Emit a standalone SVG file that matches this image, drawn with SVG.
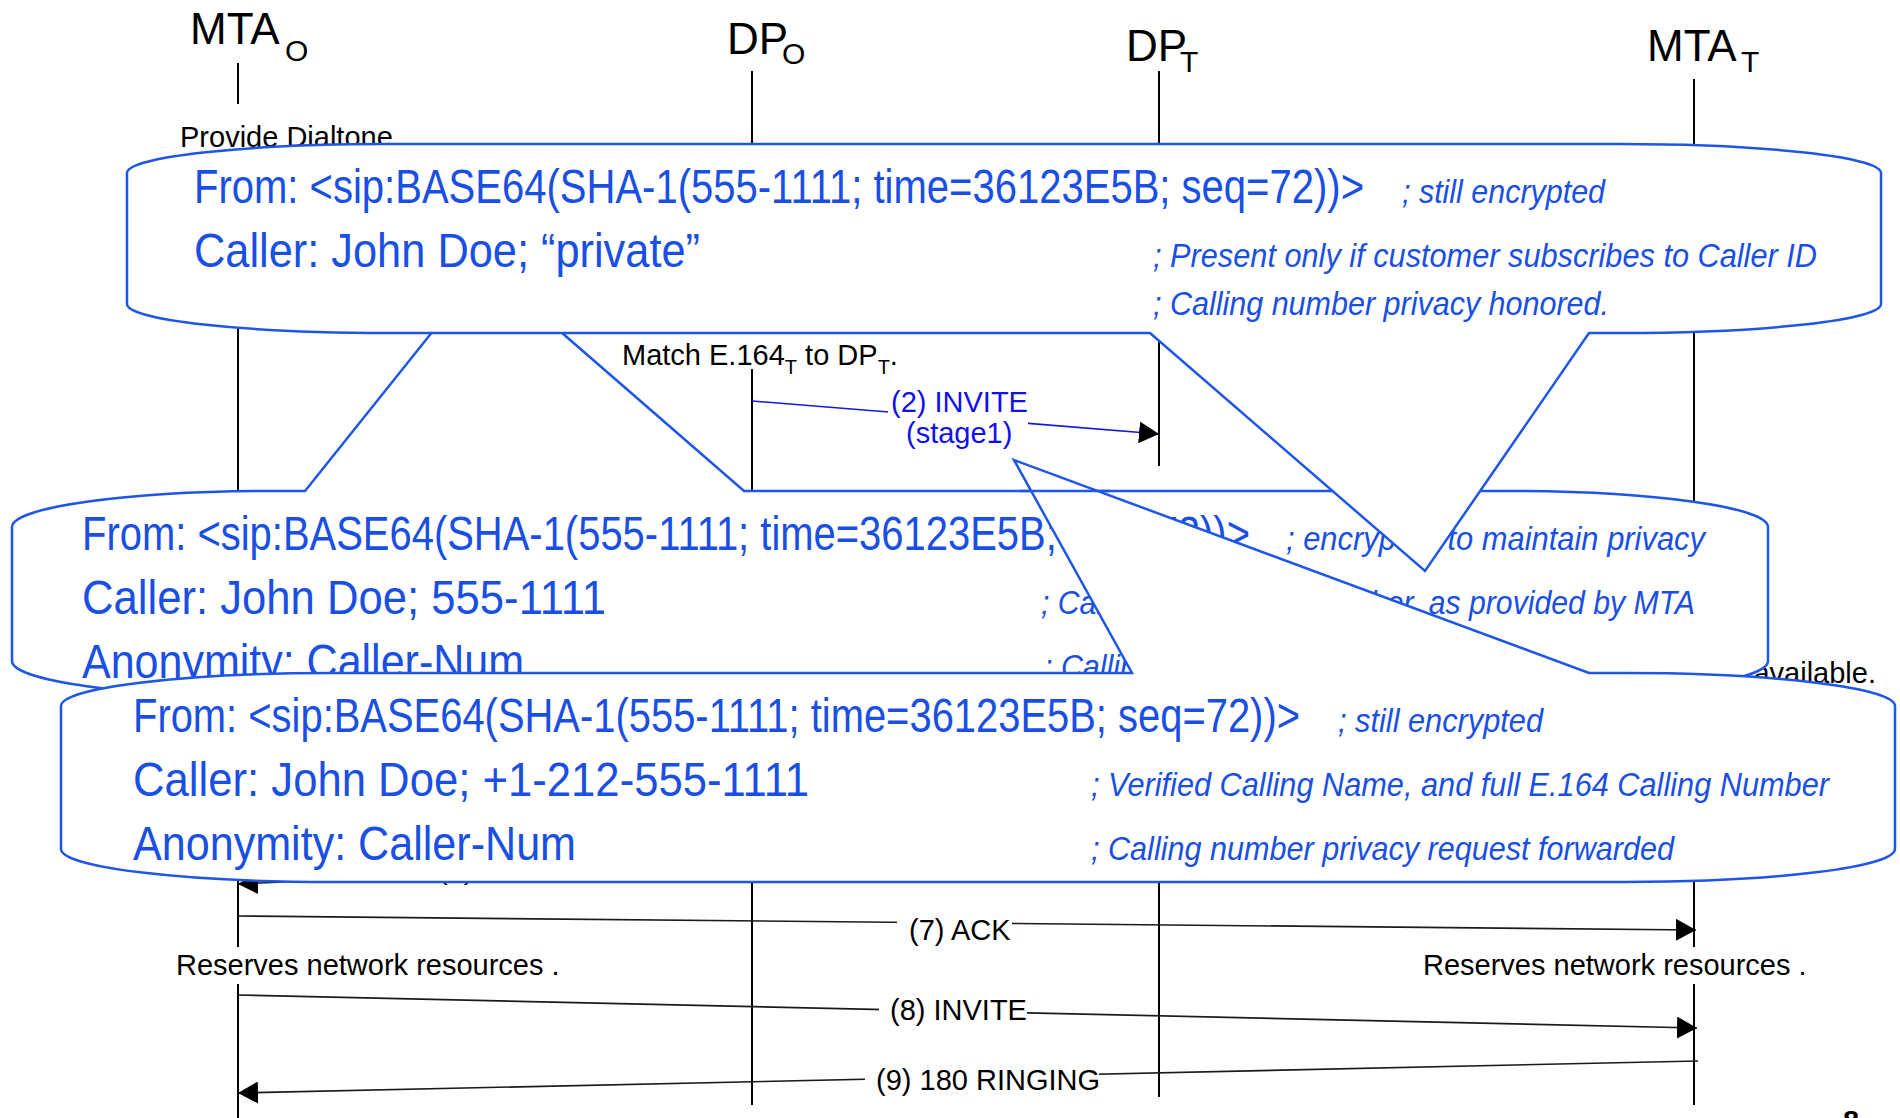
<svg xmlns="http://www.w3.org/2000/svg" width="1900" height="1118" viewBox="0 0 1900 1118">
<defs>
<style>
.hdr{font-family:"Liberation Sans",Arial,sans-serif;font-size:44px;fill:#000}
.txt{font-family:"Liberation Sans",Arial,sans-serif;font-size:29px;fill:#000}
.life{stroke:#000;stroke-width:2;fill:none}
.msg{stroke:#1a1a1a;stroke-width:1.6;fill:none}
.msgb{stroke:#1515e0;stroke-width:1.6;fill:none}
.lblbg{fill:#fff}
.bl{font-family:"Liberation Sans",Arial,sans-serif;font-size:29px;fill:#1010ee}
.co{fill:#fff;stroke:#1E56E8;stroke-width:2.5}
.edge{stroke:#1E56E8;stroke-width:2.5;fill:none}
.big{font-family:"Liberation Sans Narrow","Liberation Sans",Arial,sans-serif;font-size:49px;fill:#1A4FE3}
.cmt{font-family:"Liberation Sans Narrow","Liberation Sans",Arial,sans-serif;font-size:34px;font-style:italic;fill:#1A4FE3}
</style>
<marker id="ah" markerWidth="20" markerHeight="22" refX="20" refY="11" orient="auto" markerUnits="userSpaceOnUse"><path d="M0,0 L20,11 L0,22 Z" fill="#000"/></marker>
</defs>

<g id="lifelines">
<g id="MTA_O">
<text class="hdr" x="190" y="44">MTA<tspan x="285" y="61" font-size="30">O</tspan></text>
<path class="life" d="M238,63 V104 M238,155 V947 M238,984 V1118"/>
</g>
<g id="DP_O">
<text class="hdr" x="727" y="54">DP<tspan x="782" y="64" font-size="30">O</tspan></text>
<path class="life" d="M752,71 V150 M752,369 V1105"/>
</g>
<g id="DP_T">
<text class="hdr" x="1126" y="61">DP<tspan x="1180" y="72" font-size="30">T</tspan></text>
<path class="life" d="M1159,71 V150 M1159,333 V466 M1159,500 V1097"/>
</g>
<g id="MTA_T">
<text class="hdr" x="1647" y="61">MTA<tspan x="1741" y="72" font-size="30">T</tspan></text>
<path class="life" d="M1694,79 V150 M1694,333 V947 M1694,984 V1105"/>
</g>
</g>

<g id="notes">
<text class="txt" x="180" y="147">Provide Dialtone</text>
<text class="txt" x="622" y="365">Match E.164<tspan font-size="20" dy="9">T</tspan><tspan dy="-9"> to DP</tspan><tspan font-size="20" dy="9">T</tspan><tspan dy="-9">.</tspan></text>
<text class="txt" x="1876" y="683" text-anchor="end">available.</text>
<text class="txt" x="176" y="975">Reserves network resources .</text>
<text class="txt" x="1423" y="975">Reserves network resources .</text>
<text class="txt" x="1843" y="1131" font-weight="bold">8</text>
</g>

<g id="connectors">
<g id="msg2">
<line class="msgb" x1="752" y1="401" x2="1159" y2="434" marker-end="url(#ah)"/>
<rect class="lblbg" x="888" y="388" width="140" height="64"/>
<text class="bl" x="891" y="412">(2) INVITE</text>
<text class="bl" x="906" y="443">(stage1)</text>
</g>
<g id="msg6">
<line class="msg" x1="1694" y1="821" x2="238" y2="884" marker-end="url(#ah)"/>
<text class="txt" x="438" y="879">(6)</text>
</g>
<g id="msg7">
<line class="msg" x1="238" y1="916" x2="1696" y2="930" marker-end="url(#ah)"/>
<rect class="lblbg" x="897" y="914" width="115" height="34"/>
<text class="txt" x="909" y="940">(7) ACK</text>
</g>
<g id="msg8">
<line class="msg" x1="238" y1="995" x2="1697" y2="1028" marker-end="url(#ah)"/>
<rect class="lblbg" x="879" y="994" width="148" height="34"/>
<text class="txt" x="890" y="1020">(8) INVITE</text>
</g>
<g id="msg9">
<line class="msg" x1="1698" y1="1061" x2="238" y2="1093" marker-end="url(#ah)"/>
<rect class="lblbg" x="865" y="1064" width="234" height="34"/>
<text class="txt" x="876" y="1090">(9) 180 RINGING</text>
</g>
</g>

<g id="callout2">
<path class="co" d="M273,491 H305 L485,266 L744,491 H1507 A261,36 0 0 1 1768,527 V661 A261,36 0 0 1 1507,697 H273 A261,36 0 0 1 12,661 V527 A261,36 0 0 1 273,491 Z"/>
<text class="big" x="82" y="550" textLength="1168" lengthAdjust="spacingAndGlyphs">From: &lt;sip:BASE64(SHA-1(555-1111; time=36123E5B; seq=72))&gt;</text>
<text class="cmt" x="1286" y="550" textLength="419" lengthAdjust="spacingAndGlyphs">; encrypted to maintain privacy</text>
<text class="big" x="82" y="614" textLength="524" lengthAdjust="spacingAndGlyphs">Caller: John Doe; 555-1111</text>
<text class="cmt" x="1041" y="614" textLength="654" lengthAdjust="spacingAndGlyphs">; Calling Name and Number, as provided by MTA</text>
<text class="big" x="82" y="678" textLength="442" lengthAdjust="spacingAndGlyphs">Anonymity: Caller-Num</text>
<text class="cmt" x="1044" y="678" textLength="470" lengthAdjust="spacingAndGlyphs">; Calling number privacy requested</text>
</g>

<g id="callout3">
<path class="co" d="M331,673 H1132 L1014,460 L1589,673 H1625 A270,33 0 0 1 1895,706 V849 A270,33 0 0 1 1625,882 H331 A270,33 0 0 1 61,849 V706 A270,33 0 0 1 331,673 Z"/>
<text class="big" x="133" y="732" textLength="1167" lengthAdjust="spacingAndGlyphs">From: &lt;sip:BASE64(SHA-1(555-1111; time=36123E5B; seq=72))&gt;</text>
<text class="cmt" x="1338" y="732" textLength="205" lengthAdjust="spacingAndGlyphs">; still encrypted</text>
<text class="big" x="133" y="796" textLength="676" lengthAdjust="spacingAndGlyphs">Caller: John Doe; +1-212-555-1111</text>
<text class="cmt" x="1091" y="796" textLength="738" lengthAdjust="spacingAndGlyphs">; Verified Calling Name, and full E.164 Calling Number</text>
<text class="big" x="133" y="860" textLength="443" lengthAdjust="spacingAndGlyphs">Anonymity: Caller-Num</text>
<text class="cmt" x="1091" y="860" textLength="583" lengthAdjust="spacingAndGlyphs">; Calling number privacy request forwarded</text>
</g>
<line class="edge" x1="1020" y1="491" x2="1110" y2="491"/>

<g id="callout1">
<path class="co" d="M388,144 H1620 A261,29 0 0 1 1881,173 V304 A261,29 0 0 1 1620,333 H1589 L1425,571 L1150,333 H388 A261,29 0 0 1 127,304 V173 A261,29 0 0 1 388,144 Z"/>
<text class="big" x="194" y="203" textLength="1170" lengthAdjust="spacingAndGlyphs">From: &lt;sip:BASE64(SHA-1(555-1111; time=36123E5B; seq=72))&gt;</text>
<text class="cmt" x="1402" y="203" textLength="203" lengthAdjust="spacingAndGlyphs">; still encrypted</text>
<text class="big" x="194" y="267" textLength="506" lengthAdjust="spacingAndGlyphs">Caller: John Doe; “private”</text>
<text class="cmt" x="1153" y="267" textLength="664" lengthAdjust="spacingAndGlyphs">; Present only if customer subscribes to Caller ID</text>
<text class="cmt" x="1153" y="315" textLength="456" lengthAdjust="spacingAndGlyphs">; Calling number privacy honored.</text>
</g>
</svg>
